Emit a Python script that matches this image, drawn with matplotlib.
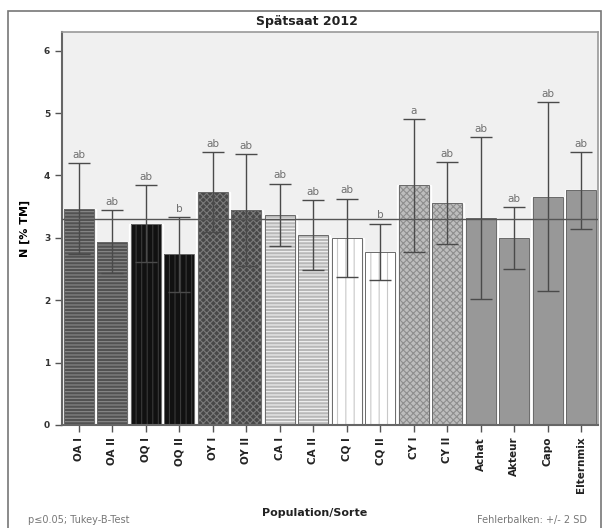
import matplotlib
matplotlib.use('Agg')
import matplotlib.pyplot as plt
from matplotlib.patches import Rectangle

# --- data ---
sorten = ['OA I', 'OA II', 'OQ I', 'OQ II', 'OY I', 'OY II', 'CA I', 'CA II',
          'CQ I', 'CQ II', 'CY I', 'CY II', 'Achat', 'Akteur', 'Capo', 'Elternmix']
mittel = [3.47, 2.94, 3.23, 2.74, 3.73, 3.45, 3.37, 3.05,
          3.00, 2.78, 3.84, 3.56, 3.32, 3.00, 3.66, 3.76]
fehler = [0.73, 0.51, 0.61, 0.60, 0.64, 0.90, 0.50, 0.56,
          0.63, 0.45, 1.07, 0.66, 1.30, 0.50, 1.51, 0.62]
buchstaben = ['ab', 'ab', 'ab', 'b', 'ab', 'ab', 'ab', 'ab',
              'ab', 'b', 'a', 'ab', 'ab', 'ab', 'ab', 'ab']
gesamt_mittel = 3.3

# Farbe / Schraffur je Gruppe
farben = ['#525252', '#525252', '#111111', '#111111', '#484848', '#484848',
          '#b8b8b8', '#b8b8b8', '#ffffff', '#ffffff', '#bdbdbd', '#bdbdbd',
          '#989898', '#989898', '#989898', '#989898']
schraffur = ['-----', '-----', '|||', '|||', 'xxxxx', 'xxxxx',
             '-----', '-----', '||', '||', 'xxxxx', 'xxxxx',
             None, None, None, None]
schraffur_farbe = ['#8a8a8a', '#8a8a8a', '#3a3a3a', '#3a3a3a', '#7a7a7a', '#7a7a7a',
                   '#f4f4f4', '#f4f4f4', '#c8c8c8', '#c8c8c8', '#8e8e8e', '#8e8e8e',
                   '#989898', '#989898', '#989898', '#989898']

plt.rcParams['hatch.linewidth'] = 0.8
plt.rcParams['font.family'] = ['DejaVu Sans']

fig = plt.figure(figsize=(6.02, 5.28), dpi=100)
fig.patch.set_facecolor('white')

# äußerer Rahmen
fig.patches.append(Rectangle((8 / 602, -0.01), 0.999 - 8 / 602, 1 - 11 / 528 + 0.01,
                             transform=fig.transFigure, fill=False,
                             edgecolor='#777777', linewidth=1.2))

ax = fig.add_axes([62 / 602, 103 / 528, 536 / 602, 393 / 528])
ax.set_facecolor('#f0f0f0')

x = list(range(len(sorten)))
breite = 0.9

# Balken mit Schraffur
for i in x:
    ax.bar(i, mittel[i], width=breite, color=farben[i], edgecolor=schraffur_farbe[i],
           linewidth=0, hatch=schraffur[i], zorder=2)
    ax.bar(i, mittel[i], width=breite, facecolor='none', edgecolor='#6a6a6a',
           linewidth=0.7, zorder=3)
    ax.bar(i, mittel[i], width=1.0, facecolor='none', edgecolor='white',
           linewidth=1.0, zorder=1.9)

# Fehlerbalken +/- 2 SD
ax.errorbar(x, mittel, yerr=fehler, fmt='none', ecolor='#4a4a4a', elinewidth=1.0,
            capsize=8, capthick=1.0, zorder=4)

# Referenzlinie
ax.axhline(gesamt_mittel, color='#555555', linewidth=1.0, zorder=5)

# Buchstaben (Tukey-B)
for i in x:
    ax.text(i, mittel[i] + fehler[i] + 0.05, buchstaben[i], ha='center', va='bottom',
            fontsize=7.5, color='#707070', zorder=6)

ax.set_xlim(-0.5, len(sorten) - 0.5)
ax.set_ylim(0, 6.3)
ax.set_yticks([0, 1, 2, 3, 4, 5, 6])
ax.set_yticklabels(['0', '1', '2', '3', '4', '5', '6'], fontsize=6.5,
                   fontweight='bold', color='#333333')
ax.set_xticks(x)
ax.set_xticklabels(sorten, rotation=90, fontsize=7.5, fontweight='bold', color='#222222')
ax.tick_params(axis='both', direction='out', length=5, width=1, color='#555555')

for s in ['top', 'right']:
    ax.spines[s].set_color('#999999')
    ax.spines[s].set_linewidth(1.2)
for s in ['left', 'bottom']:
    ax.spines[s].set_color('#666666')
    ax.spines[s].set_linewidth(1.5)

ax.set_ylabel('N [% TM]', fontsize=8, fontweight='bold', labelpad=10)

fig.text(307 / 602, 1 - 21 / 528, 'Spätsaat 2012', ha='center', va='center',
         fontsize=9, fontweight='bold', color='#222222')
fig.text(315 / 602, 1 - 513 / 528, 'Population/Sorte', ha='center', va='center',
         fontsize=8, fontweight='bold', color='#222222')
fig.text(28 / 602, 1 - 520 / 528, 'p≤0.05; Tukey-B-Test', ha='left', va='center',
         fontsize=7, color='#777777')
fig.text(587 / 602, 1 - 520 / 528, 'Fehlerbalken: +/- 2 SD', ha='right', va='center',
         fontsize=7, color='#777777')

fig.savefig('out.png', dpi=100)
